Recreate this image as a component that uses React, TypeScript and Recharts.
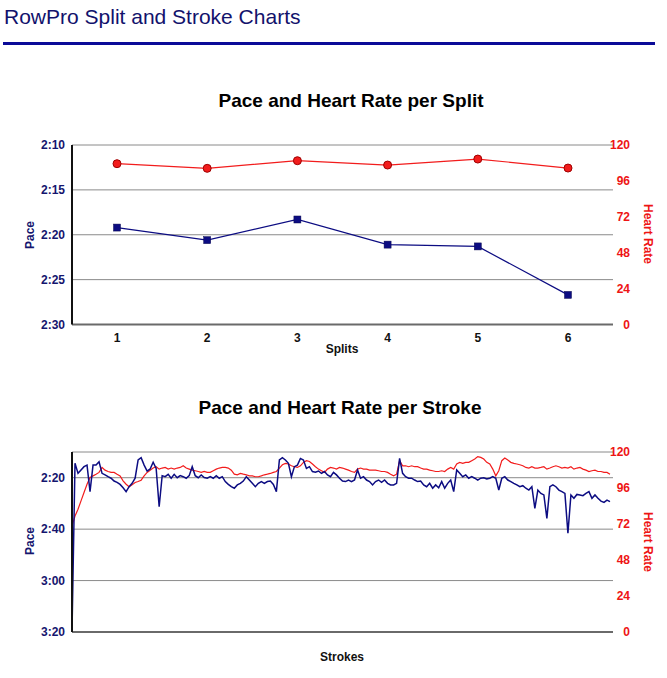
import React from 'react';
import { LineChart, Line, XAxis, YAxis, CartesianGrid } from 'recharts';

// ---------- data ----------
const splits = ['1', '2', '3', '4', '5', '6'];
const splitPace = [139.2, 140.6, 138.3, 141.1, 141.3, 146.7]; // seconds per 500m
const splitHr = [107.5, 104.4, 109.5, 106.6, 110.6, 104.6];

const splitPaceTicks = [130, 135, 140, 145, 150];
const hrTicks = [0, 24, 48, 72, 96, 120];
const strokePaceTicks = [140, 160, 180, 200];

const strokePace = [
  200, 134.4, 138.3, 137.0, 135.7, 135.1, 145.4, 135.1, 135.1, 133.8,
  138.3, 138.9, 139.6, 140.2, 141.3, 141.8, 142.6, 143.9, 145.4, 143.5,
  142.2, 140.2, 133.1, 132.2, 135.1, 137.4, 136.6, 134.0, 136.4, 151.3,
  139.2, 139.6, 138.7, 140.2, 138.7, 140.0, 139.2, 139.6, 140.2, 139.2,
  135.7, 139.2, 140.0, 138.9, 139.9, 140.2, 139.6, 140.2, 139.2, 140.2,
  139.6, 141.5, 142.6, 143.5, 144.1, 142.8, 142.2, 141.3, 139.6, 140.9,
  142.2, 143.5, 142.2, 141.5, 142.2, 141.5, 141.3, 142.6, 145.4, 133.1,
  132.2, 133.1, 134.4, 139.6, 135.7, 135.1, 132.5, 133.1, 136.4, 135.7,
  137.6, 137.9, 137.4, 138.3, 137.6, 138.9, 139.6, 137.9, 138.9, 140.2,
  141.3, 141.5, 140.9, 141.5, 140.9, 137.0, 140.2, 139.6, 140.9, 141.5,
  142.8, 141.5, 140.9, 141.8, 140.9, 142.2, 142.8, 142.8, 142.2, 132.5,
  138.3, 139.6, 140.2, 140.2, 140.9, 141.5, 141.3, 142.8, 143.5, 142.2,
  144.1, 142.8, 143.9, 141.5, 144.1, 142.2, 140.9, 145.4, 137.0, 138.3,
  139.6, 138.9, 140.2, 139.6, 140.2, 140.9, 140.2, 140.0, 140.5, 140.2,
  139.6, 140.2, 144.8, 140.2, 139.6, 140.9, 141.5, 142.2, 142.8, 143.5,
  143.1, 144.1, 144.8, 143.5, 151.9, 144.8, 146.1, 146.7, 155.8, 143.5,
  142.8, 143.5, 144.8, 145.4, 146.1, 161.6, 146.7, 148.0, 146.5, 146.7,
  147.0, 146.1, 145.4, 148.0, 146.7, 148.0, 149.1, 149.6, 148.7, 149.3,
];

const strokeHr = [
  70.6, 77.3, 81.8, 87.4, 93.0, 98.5, 103.0, 104.1, 105.2, 106.4,
  109.7, 107.9, 107.0, 106.4, 106.4, 105.2, 104.1, 100.8, 98.5, 96.8,
  98.1, 99.7, 100.3, 101.2, 104.1, 106.4, 107.9, 109.3, 110.2, 108.6,
  109.3, 109.7, 108.6, 109.3, 108.6, 109.3, 109.7, 110.8, 109.3, 108.6,
  107.9, 107.5, 107.0, 106.4, 107.0, 106.4, 106.4, 107.5, 108.6, 109.3,
  109.7, 109.7, 109.3, 107.9, 105.2, 104.8, 105.7, 105.2, 104.8, 104.1,
  104.1, 103.5, 103.5, 104.1, 104.8, 105.2, 105.7, 106.4, 107.0, 109.3,
  111.5, 112.4, 112.0, 110.8, 110.2, 109.7, 110.8, 113.1, 114.2, 113.7,
  112.0, 110.2, 108.6, 107.5, 106.4, 108.6, 109.7, 109.3, 108.6, 109.7,
  109.3, 108.6, 107.9, 107.0, 106.4, 108.6, 109.3, 108.6, 108.6, 107.9,
  107.9, 107.9, 107.5, 107.0, 107.0, 106.4, 105.2, 104.1, 105.2, 114.2,
  110.8, 110.8, 110.2, 110.8, 110.2, 110.2, 109.3, 108.6, 108.6, 107.9,
  107.5, 107.0, 107.0, 107.5, 107.0, 108.6, 109.7, 108.6, 112.0, 113.1,
  112.4, 113.1, 113.1, 114.2, 115.3, 116.9, 116.4, 115.3, 113.1, 112.0,
  108.6, 104.1, 107.5, 114.2, 116.0, 114.6, 113.1, 112.4, 112.0, 111.5,
  110.8, 109.7, 109.3, 110.2, 109.3, 109.3, 109.7, 110.2, 108.6, 109.3,
  110.2, 110.8, 110.2, 109.3, 109.7, 109.3, 110.2, 108.6, 109.3, 109.7,
  108.6, 107.9, 107.0, 107.5, 107.9, 107.0, 107.0, 106.4, 106.4, 105.2,
];

// ---------- styles ----------
const FONT = '"Liberation Sans", Arial, Helvetica, sans-serif';
const NAVY = '#15156e';
const LINE_NAVY = '#0c0c82';
const RED = '#ee1515';
const LINE_RED = '#f21c1c';

const fmt = (s: number) => {
  const m = Math.floor(s / 60);
  const r = Math.round(s - m * 60);
  return `${m}:${String(r).padStart(2, '0')}`;
};

const splitData = splits.map((s, i) => ({ split: s, pace: splitPace[i], hr: splitHr[i] }));
const strokeData = strokePace.map((p, i) => ({ stroke: i, pace: p, hr: strokeHr[i] }));

const LeftTick = (p: any) => (
  <text x={p.x} y={p.y} dy="0.36em" textAnchor="end" fill={NAVY} fontSize={12} fontWeight="bold" fontFamily={FONT}>
    {fmt(p.payload.value)}
  </text>
);
const RightTick = (p: any) => (
  <text x={p.x + 9} y={p.y} dy="0.36em" textAnchor="end" fill={RED} fontSize={12} fontWeight="bold" fontFamily={FONT}>
    {p.payload.value}
  </text>
);
const BottomTick = (p: any) => (
  <text x={p.x} y={p.y + 1} dy="0.71em" textAnchor="middle" fill="#111" fontSize={12} fontWeight="bold" fontFamily={FONT}>
    {p.payload.value}
  </text>
);

const SquareDot = (p: any) => (
  <rect key={`sq-${p.index}`} x={p.cx - 3.5} y={p.cy - 3.5} width={7} height={7} fill={LINE_NAVY} stroke="#0a0a50" strokeWidth={0.5} />
);
const CircleDot = (p: any) => (
  <circle key={`ci-${p.index}`} cx={p.cx} cy={p.cy} r={4} fill={LINE_RED} stroke="#a00000" strokeWidth={1} />
);

const abs = (extra: React.CSSProperties): React.CSSProperties => ({ position: 'absolute', whiteSpace: 'nowrap', fontFamily: FONT, ...extra });

const Title = ({ text, cx, cy }: { text: string; cx: number; cy: number }) => (
  <div style={abs({ left: cx, top: cy - 11, lineHeight: '22px', transform: 'translateX(-50%)', fontSize: 19, fontWeight: 'bold', color: '#000' })}>
    {text}
  </div>
);
const VLabel = ({ text, cx, cy, color, angle }: { text: string; cx: number; cy: number; color: string; angle: number }) => (
  <div style={abs({ left: cx, top: cy, lineHeight: '14px', transform: `translate(-50%, -50%) rotate(${angle}deg)`, fontSize: 12, fontWeight: 'bold', color })}>
    {text}
  </div>
);

export default function App() {
  return (
    <div style={{ position: 'absolute', left: 0, top: 0, width: 667, height: 678, background: '#fff', overflow: 'hidden' }}>
      <div style={abs({ left: 4, top: 4, fontSize: 21, lineHeight: '25px', color: '#12126c' })}>RowPro Split and Stroke Charts</div>
      <div style={{ position: 'absolute', left: 3, top: 42, width: 652, height: 3, background: '#0b0b98' }} />

      {/* Split chart */}
      <Title text="Pace and Heart Rate per Split" cx={351} cy={101} />
      <div style={{ position: 'absolute', left: 0, top: 0 }}>
        <LineChart width={667} height={370} data={splitData} margin={{ top: 145, right: 0, bottom: 0, left: 0 }}>
          <CartesianGrid yAxisId="pace" vertical={false} stroke="#8a8a8a" />
          <XAxis dataKey="split" height={45.5} padding={{ left: 45, right: 45 }} tickLine={false} tick={BottomTick} axisLine={{ stroke: '#6a6a6a', strokeWidth: 2 }} />
          <YAxis yAxisId="pace" orientation="left" width={72} reversed domain={[130, 150]} ticks={splitPaceTicks} tickLine={false} tickMargin={1} tick={LeftTick} axisLine={{ stroke: '#111', strokeWidth: 2 }} />
          <YAxis yAxisId="hr" orientation="right" width={54} domain={[0, 120]} ticks={hrTicks} tickLine={false} tick={RightTick} axisLine={false} />
          <Line yAxisId="hr" dataKey="hr" stroke={LINE_RED} strokeWidth={1.2} dot={CircleDot} isAnimationActive={false} />
          <Line yAxisId="pace" dataKey="pace" stroke={LINE_NAVY} strokeWidth={1.2} dot={SquareDot} isAnimationActive={false} />
        </LineChart>
      </div>
      <VLabel text="Pace" cx={30} cy={235} color={NAVY} angle={-90} />
      <VLabel text="Heart Rate" cx={648} cy={234} color={RED} angle={90} />
      <div style={abs({ left: 342, top: 342, lineHeight: '14px', transform: 'translateX(-50%)', fontSize: 12, fontWeight: 'bold', color: '#111' })}>Splits</div>

      {/* Stroke chart */}
      <Title text="Pace and Heart Rate per Stroke" cx={340} cy={408} />
      <div style={{ position: 'absolute', left: 0, top: 370 }}>
        <LineChart width={667} height={308} data={strokeData} margin={{ top: 82, right: 0, bottom: 0, left: 0 }}>
          <CartesianGrid yAxisId="pace" vertical={false} horizontal stroke="#8a8a8a" />
          <XAxis dataKey="stroke" type="number" domain={[0, 180]} height={46} tick={false} tickLine={false} axisLine={{ stroke: '#6a6a6a', strokeWidth: 2 }} />
          <YAxis yAxisId="pace" orientation="left" width={72} reversed domain={[130, 200]} ticks={strokePaceTicks} tickLine={false} tickMargin={1} tick={LeftTick} axisLine={{ stroke: '#111', strokeWidth: 2 }} allowDataOverflow />
          <YAxis yAxisId="hr" orientation="right" width={54} domain={[0, 120]} ticks={hrTicks} tickLine={false} tick={RightTick} axisLine={false} />
          <Line yAxisId="hr" dataKey="hr" stroke={LINE_RED} strokeWidth={1.2} dot={false} isAnimationActive={false} />
          <Line yAxisId="pace" dataKey="pace" stroke={LINE_NAVY} strokeWidth={1.5} dot={false} isAnimationActive={false} />
        </LineChart>
      </div>
      <VLabel text="Pace" cx={30} cy={541} color={NAVY} angle={-90} />
      <VLabel text="Heart Rate" cx={648} cy={542} color={RED} angle={90} />
      <div style={abs({ left: 342, top: 650, lineHeight: '14px', transform: 'translateX(-50%)', fontSize: 12, fontWeight: 'bold', color: '#111' })}>Strokes</div>
    </div>
  );
}
